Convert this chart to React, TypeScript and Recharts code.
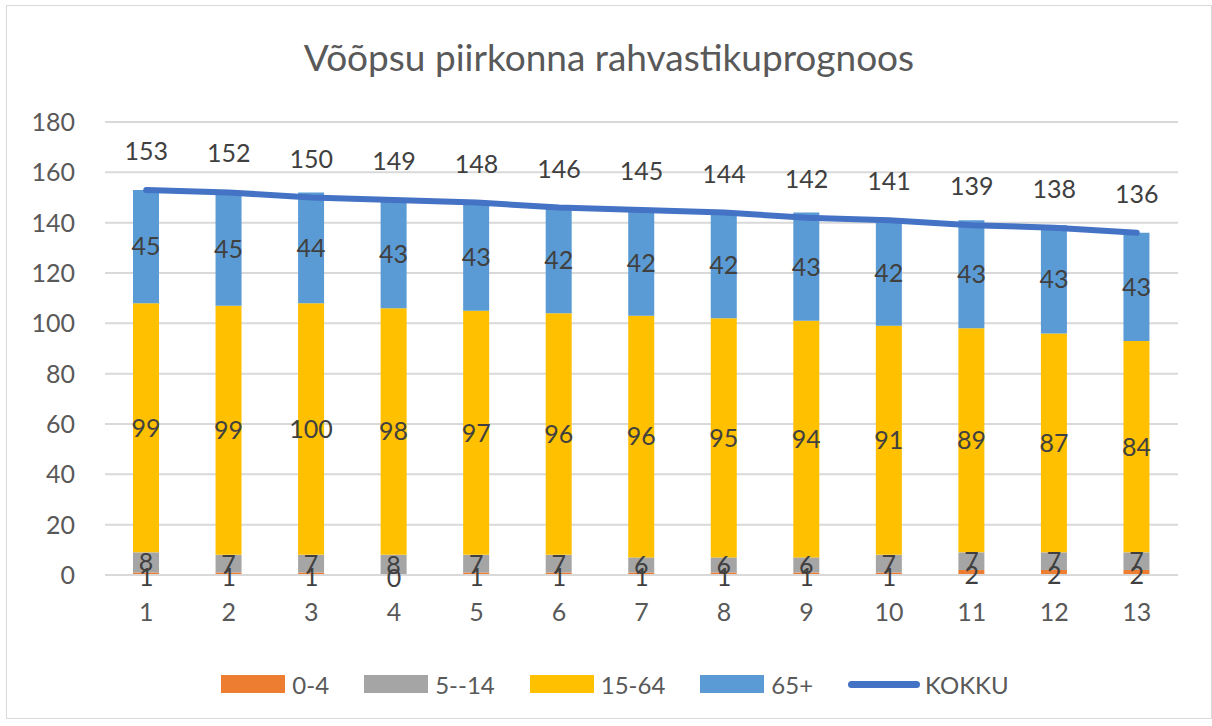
import {
  ComposedChart,
  Bar,
  Line,
  XAxis,
  YAxis,
  CartesianGrid,
  Legend,
  LabelList,
} from "recharts";

const categories = ["1", "2", "3", "4", "5", "6", "7", "8", "9", "10", "11", "12", "13"];
const age0to4 = [1, 1, 1, 0, 1, 1, 1, 1, 1, 1, 2, 2, 2];
const age5to14 = [8, 7, 7, 8, 7, 7, 6, 6, 6, 7, 7, 7, 7];
const age15to64 = [99, 99, 100, 98, 97, 96, 96, 95, 94, 91, 89, 87, 84];
const age65plus = [45, 45, 44, 43, 43, 42, 42, 42, 43, 42, 43, 43, 43];
const kokku = [153, 152, 150, 149, 148, 146, 145, 144, 142, 141, 139, 138, 136];
const yTicks = [0, 20, 40, 60, 80, 100, 120, 140, 160, 180];

const data = categories.map((name, i) => ({
  name,
  a: age0to4[i],
  b: age5to14[i],
  c: age15to64[i],
  d: age65plus[i],
  total: kokku[i],
  // middle of the 0-4 segment, used only to place its labels (0 bars get no label otherwise)
  aMid: age0to4[i] / 2,
}));

const FONT = "Lato, 'Open Sans', sans-serif";
const AXIS_TEXT = "#595959";
const LABEL_TEXT = "#404040";

const legendItems = [
  { label: "0-4", color: "#ED7D31", type: "rect" },
  { label: "5--14", color: "#A5A5A5", type: "rect" },
  { label: "15-64", color: "#FFC000", type: "rect" },
  { label: "65+", color: "#5B9BD5", type: "rect" },
  { label: "KOKKU", color: "#4472C4", type: "line" },
];

const ChartLegend = () => (
  <div
    style={{
      display: "flex",
      justifyContent: "center",
      alignItems: "center",
      height: 40,
      fontFamily: FONT,
      fontSize: 24,
      color: AXIS_TEXT,
      paddingLeft: 12,
    }}
  >
    {legendItems.map((it, i) => (
      <div
        key={it.label}
        style={{ display: "flex", alignItems: "center", marginLeft: i === 0 ? 0 : 35 }}
      >
        {it.type === "rect" ? (
          <span
            style={{ width: 64, height: 18, background: it.color, display: "inline-block", marginRight: 7 }}
          />
        ) : (
          <span
            style={{
              width: 72,
              height: 7,
              borderRadius: 4,
              background: it.color,
              display: "inline-block",
              marginRight: 5,
            }}
          />
        )}
        <span>{it.label}</span>
      </div>
    ))}
  </div>
);

// total labels sit well above the line, like the Excel original
// eslint-disable-next-line @typescript-eslint/no-explicit-any
const TotalLabel = (props: any) => {
  const { x, y, value } = props;
  return (
    <text
      x={x}
      y={y - 40}
      textAnchor="middle"
      dominantBaseline="central"
      fontFamily={FONT}
      fontSize={25}
      fill={LABEL_TEXT}
    >
      {value}
    </text>
  );
};

// eslint-disable-next-line @typescript-eslint/no-explicit-any
const SmallLabel = (props: any) => {
  const { x, y, index } = props;
  return (
    <text
      x={x}
      y={y + 2}
      textAnchor="middle"
      dominantBaseline="central"
      fontFamily={FONT}
      fontSize={25}
      fill={LABEL_TEXT}
    >
      {age0to4[index]}
    </text>
  );
};

const segLabel = {
  position: "center" as const,
  fontFamily: FONT,
  fontSize: 25,
  fill: LABEL_TEXT,
};

export default function App() {
  return (
    <div
      style={{
        position: "absolute",
        left: 6,
        top: 5,
        width: 1206,
        height: 714,
        border: "1px solid #d9d9d9",
        boxSizing: "border-box",
        background: "#fff",
      }}
    >
      <div
        style={{
          position: "absolute",
          top: 28,
          left: 0,
          width: 1204,
          textAlign: "center",
          fontFamily: FONT,
          fontSize: 37,
          color: AXIS_TEXT,
        }}
      >
        Võõpsu piirkonna rahvastikuprognoos
      </div>
      <ComposedChart
        width={1204}
        height={712}
        data={data}
        margin={{ top: 116, right: 33, left: 0, bottom: 43 }}
      >
        <CartesianGrid vertical={false} stroke="#d9d9d9" strokeWidth={2} />
        <XAxis
          dataKey="name"
          height={60}
          tickLine={false}
          axisLine={{ stroke: "#d9d9d9", strokeWidth: 2 }}
          tick={{ fontFamily: FONT, fontSize: 25, fill: AXIS_TEXT }}
          tickSize={0}
          tickMargin={28}
        />
        <YAxis
          width={98}
          domain={[0, 180]}
          ticks={yTicks}
          axisLine={false}
          tickLine={false}
          tickSize={0}
          tickMargin={30}
          tick={{ fontFamily: FONT, fontSize: 25, fill: AXIS_TEXT }}
        />
        <Legend
          verticalAlign="bottom"
          content={<ChartLegend />}
          wrapperStyle={{ top: 658, left: 0, width: 1204, bottom: "auto" }}
        />
        <Bar dataKey="a" name="0-4" stackId="s" fill="#ED7D31" barSize={26} isAnimationActive={false} />
        <Bar dataKey="b" name="5--14" stackId="s" fill="#A5A5A5" barSize={26} isAnimationActive={false}>
          <LabelList dataKey="b" {...segLabel} />
        </Bar>
        <Bar dataKey="c" name="15-64" stackId="s" fill="#FFC000" barSize={26} isAnimationActive={false}>
          <LabelList dataKey="c" {...segLabel} />
        </Bar>
        <Bar dataKey="d" name="65+" stackId="s" fill="#5B9BD5" barSize={26} isAnimationActive={false}>
          <LabelList dataKey="d" {...segLabel} />
        </Bar>
        <Line
          dataKey="aMid"
          name="0-4 labels"
          stroke="none"
          dot={false}
          activeDot={false}
          legendType="none"
          isAnimationActive={false}
        >
          <LabelList dataKey="a" content={<SmallLabel />} />
        </Line>
        <Line
          dataKey="total"
          name="KOKKU"
          type="linear"
          stroke="#4472C4"
          strokeWidth={6}
          strokeLinecap="round"
          dot={false}
          activeDot={false}
          isAnimationActive={false}
        >
          <LabelList dataKey="total" content={<TotalLabel />} />
        </Line>
      </ComposedChart>
    </div>
  );
}
